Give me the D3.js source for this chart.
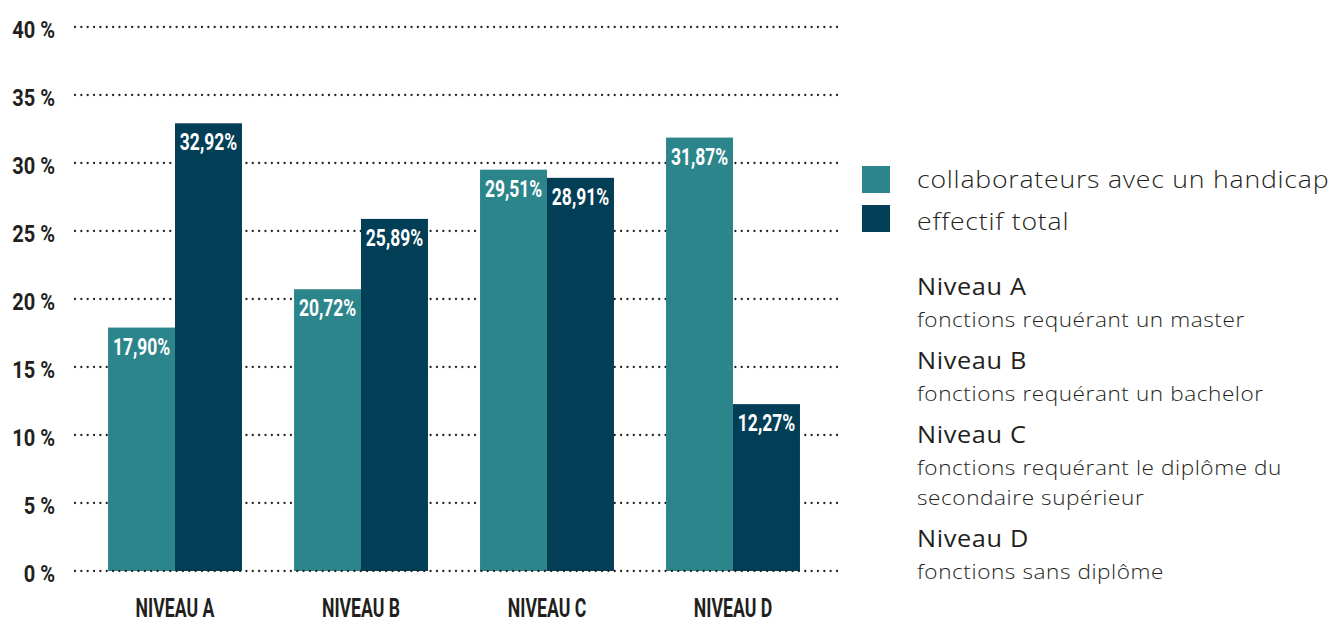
<!DOCTYPE html>
<html><head><meta charset="utf-8">
<script src="https://cdn.jsdelivr.net/npm/d3@7"></script>
<style>
body{margin:0;background:#fff;}
svg{display:block;}
</style></head>
<body>
<svg id="c" width="1335" height="624"></svg>
<script>
const categories = ["NIVEAU A","NIVEAU B","NIVEAU C","NIVEAU D"];
const seriesNames = ["collaborateurs avec un handicap","effectif total"];
const handicap = [17.90, 20.72, 29.51, 31.87];
const total = [32.92, 25.89, 28.91, 12.27];
const yTicks = [0,5,10,15,20,25,30,35,40];
const descTitles = ["Niveau A","Niveau B","Niveau C","Niveau D"];
const descTexts = [["fonctions requérant un master"],["fonctions requérant un bachelor"],["fonctions requérant le diplôme du","secondaire supérieur"],["fonctions sans diplôme"]];
const colors = ["#2d858c","#023e55"];

const cond = "Roboto,'Noto Sans',sans-serif";
const light = "'Open Sans',Lato,sans-serif";
const svg = d3.select("#c");
const y = d3.scaleLinear().domain([0,40]).range([571,27]);
const x0 = d3.scaleBand().domain(categories).range([82,826]).paddingInner(0.28).paddingOuter(0.14);
const x1 = d3.scaleBand().domain([0,1]).range([0,x0.bandwidth()]);

function dotted(sel){
  return sel.attr("stroke","#222").attr("stroke-width",2.3).attr("stroke-linecap","round")
    .attr("stroke-dasharray","0,6.35");
}
// grid (behind)
svg.append("g").selectAll("line").data(yTicks.filter(t=>t>0)).join("line")
  .attr("x1",75).attr("x2",838).attr("y1",d=>y(d)).attr("y2",d=>y(d)).call(dotted);

// y labels
svg.append("g").selectAll("text").data(yTicks).join("text")
  .attr("transform",d=>`translate(55,${y(d)+10.5}) scale(0.87,1)`).attr("text-anchor","end")
  .attr("font-family",cond).attr("font-weight","bold").attr("font-size",23)
  .attr("fill","#231f20").text(d=>d+" %");

const data = categories.map((c,i)=>({c, vals:[handicap[i], total[i]]}));
const g = svg.append("g").selectAll("g").data(data).join("g")
  .attr("transform",d=>`translate(${x0(d.c)},0)`);
g.selectAll("rect").data(d=>d.vals).join("rect")
  .attr("x",(d,i)=>x1(i)).attr("width",x1.bandwidth())
  .attr("y",d=>y(d)).attr("height",d=>y(0)-y(d))
  .attr("fill",(d,i)=>colors[i]);
g.selectAll("text").data(d=>d.vals).join("text")
  .attr("transform",(d,i)=>`translate(${x1(i)+x1.bandwidth()/2},${y(d)+27}) scale(0.76,1)`)
  .attr("text-anchor","middle").attr("fill","#fff")
  .attr("font-family",cond).attr("font-weight","bold").attr("font-size",23)
  .text(d=>d.toFixed(2).replace(".",",")+"%");

// zero line on top
svg.append("line").attr("x1",75).attr("x2",838).attr("y1",y(0)).attr("y2",y(0)).call(dotted);

// x labels
svg.append("g").selectAll("text").data(categories).join("text")
  .attr("transform",d=>`translate(${x0(d)+x0.bandwidth()/2},617) scale(0.68,1)`)
  .attr("text-anchor","middle").attr("font-family",cond).attr("font-weight","bold")
  .attr("font-size",26).attr("fill","#231f20").text(d=>d);

function wideText(x, yb, txt, size, weight, ls, sx){
  svg.append("text").attr("transform",`translate(${x},${yb}) scale(${sx},1)`)
    .attr("font-family",light).attr("font-weight",weight).attr("font-size",size)
    .attr("letter-spacing",ls).attr("fill","#231f20").text(txt);
}

// legend
seriesNames.forEach((s,i)=>{
  svg.append("rect").attr("x",862).attr("y",166+i*39).attr("width",28).attr("height",27).attr("fill",colors[i]);
  wideText(917, 188+i*42, s, 24, 300, 0.7, 1.11);
});

// descriptions
let yy = 295;
descTitles.forEach((t,i)=>{
  wideText(917, yy, t, 23, 400, 0.6, 1.1);
  yy += 32;
  descTexts[i].forEach((line,j)=>{
    if(j>0) yy += 30;
    wideText(917, yy, line, 20, 300, 0.5, 1.13);
  });
  yy += 42;
});
</script>
</body></html>
